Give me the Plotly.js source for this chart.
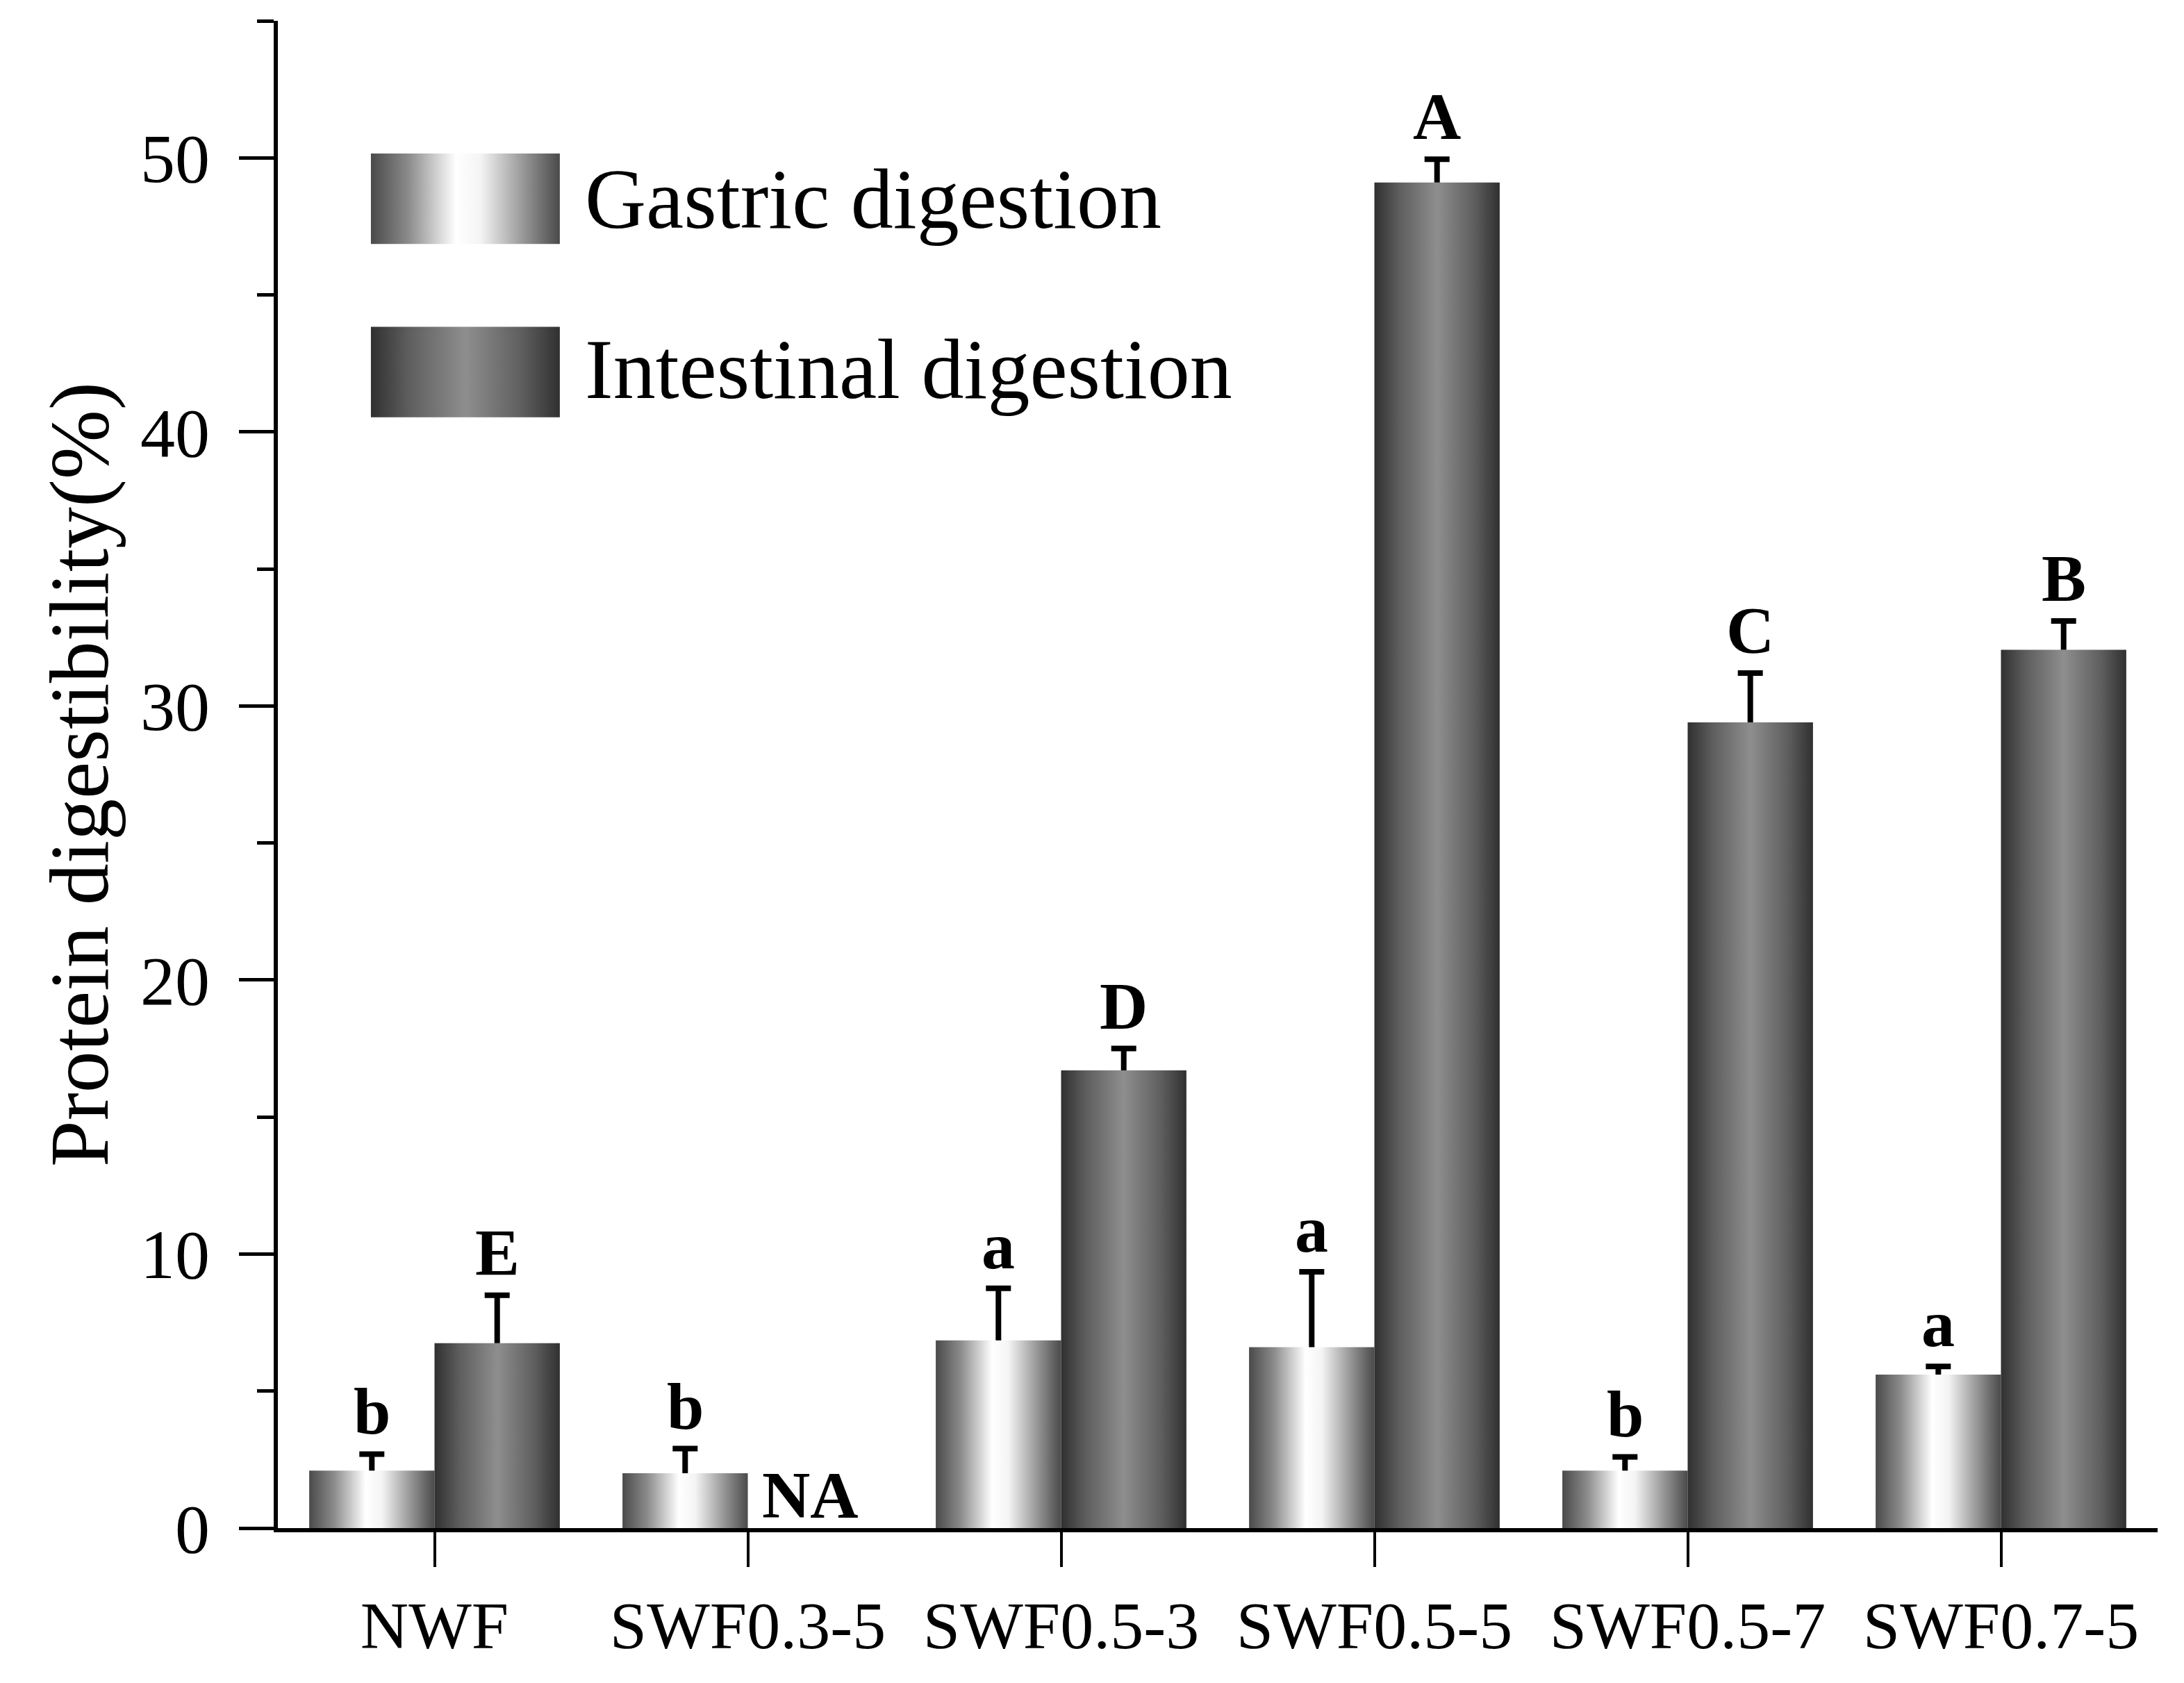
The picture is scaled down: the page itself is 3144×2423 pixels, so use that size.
<!DOCTYPE html>
<html>
<head>
<meta charset="utf-8">
<script src="https://cdn.plot.ly/plotly-3.0.1.min.js"></script>
<style>
  body { margin: 0; background: #fff; }
</style>
</head>
<body>
<svg width="0" height="0" style="position:absolute">
  <defs>
    <linearGradient id="gradGastric" x1="0" x2="1" y1="0" y2="0">
      <stop offset="0" stop-color="#4a4a4a"/>
      <stop offset="0.2" stop-color="#8c8c8c"/>
      <stop offset="0.45" stop-color="#ffffff"/>
      <stop offset="0.58" stop-color="#f4f4f4"/>
      <stop offset="0.8" stop-color="#9a9a9a"/>
      <stop offset="1" stop-color="#4a4a4a"/>
    </linearGradient>
    <linearGradient id="gradIntestinal" x1="0" x2="1" y1="0" y2="0">
      <stop offset="0" stop-color="#303030"/>
      <stop offset="0.2" stop-color="#5e5e5e"/>
      <stop offset="0.5" stop-color="#8e8e8e"/>
      <stop offset="0.8" stop-color="#5e5e5e"/>
      <stop offset="1" stop-color="#303030"/>
    </linearGradient>
  </defs>
</svg>
<div id="myDiv"></div>
<script>
var categories = ['NWF', 'SWF0.3-5', 'SWF0.5-3', 'SWF0.5-5', 'SWF0.5-7', 'SWF0.7-5'];
var gastric = [2.1, 2.0, 6.85, 6.6, 2.1, 5.6];
var gastricErr = [0.6, 0.9, 1.9, 2.75, 0.5, 0.3];
var intestinal = [6.75, null, 16.7, 49.1, 29.4, 32.05];
var intestinalErr = [1.75, null, 0.8, 0.85, 1.8, 1.05];
var gastricLetters = ['b', 'b', 'a', 'a', 'b', 'a'];
var intestinalLetters = ['E', 'NA', 'D', 'A', 'C', 'B'];

var serif = 'Liberation Serif, Times New Roman, serif';

var trace1 = {
    x: categories,
    y: gastric,
    name: 'Gastric digestion',
    type: 'bar',
    marker: {color: '#cccccc', line: {width: 0}},
    error_y: {type: 'data', array: gastricErr, arrayminus: gastricErr.map(function () { return 0; }),
              symmetric: false, color: '#000', thickness: 8, width: 18}
};

var trace2 = {
    x: categories,
    y: intestinal,
    name: 'Intestinal digestion',
    type: 'bar',
    marker: {color: '#666666', line: {width: 0}},
    error_y: {type: 'data', array: intestinalErr, arrayminus: intestinalErr.map(function () { return 0; }),
              symmetric: false, color: '#000', thickness: 8, width: 18}
};

// significance letters above each bar
var annotations = [];
categories.forEach(function (c, i) {
    annotations.push({
        x: i - 0.2, y: gastric[i] + gastricErr[i], xref: 'x', yref: 'y',
        text: gastricLetters[i], showarrow: false, yanchor: 'bottom', yshift: 6,
        font: {family: serif, size: 96, color: '#000', weight: 'bold'}
    });
    var top = intestinal[i] === null ? 0 : intestinal[i] + intestinalErr[i];
    annotations.push({
        x: i + 0.2, y: top, xref: 'x', yref: 'y',
        text: intestinalLetters[i], showarrow: false, yanchor: 'bottom', yshift: intestinal[i] === null ? -8 : 6,
        font: {family: serif, size: 96, color: '#000', weight: 'bold'}
    });
});

// hand-made legend
annotations.push({
    x: 0.1626, y: 0.882, xref: 'paper', yref: 'paper', xanchor: 'left', yanchor: 'middle',
    text: 'Gastric digestion', showarrow: false, font: {family: serif, size: 122, color: '#000'}
});
annotations.push({
    x: 0.1626, y: 0.769, xref: 'paper', yref: 'paper', xanchor: 'left', yanchor: 'middle',
    text: 'Intestinal digestion', showarrow: false, font: {family: serif, size: 122, color: '#000'}
});

var shapes = [
    {type: 'rect', xref: 'paper', yref: 'paper', x0: 0.0495, x1: 0.150, y0: 0.852, y1: 0.912,
     fillcolor: '#cccccc', line: {width: 0}},
    {type: 'rect', xref: 'paper', yref: 'paper', x0: 0.0495, x1: 0.150, y0: 0.737, y1: 0.797,
     fillcolor: '#666666', line: {width: 0}}
];

var layout = {
    width: 3144,
    height: 2423,
    margin: {l: 400, r: 38, t: 30, b: 223, pad: 0},
    paper_bgcolor: '#fff',
    plot_bgcolor: '#fff',
    showlegend: false,
    barmode: 'group',
    bargap: 0.2,
    bargroupgap: 0,
    font: {family: serif, color: '#000'},
    xaxis: {
        type: 'category',
        range: [-0.5, 5.5],
        showline: true, linecolor: '#000', linewidth: 6,
        ticks: 'outside', ticklen: 50, tickwidth: 4, tickcolor: '#000',
        ticklabelstandoff: 2,
        tickfont: {family: serif, size: 96, color: '#000'},
        showgrid: false, zeroline: false
    },
    yaxis: {
        range: [0, 55],
        dtick: 10,
        showline: true, linecolor: '#000', linewidth: 6,
        ticks: 'outside', ticklen: 50, tickwidth: 5, tickcolor: '#000',
        minor: {dtick: 5, ticks: 'outside', ticklen: 24, tickwidth: 5, tickcolor: '#000'},
        ticklabelstandoff: 22,
        tickfont: {family: serif, size: 100, color: '#000'},
        showgrid: false, zeroline: false,
        title: {text: 'Protein digestibility(%)', font: {family: serif, size: 120, color: '#000'}, standoff: 8}
    },
    annotations: annotations,
    shapes: shapes
};

var data = [trace1, trace2];

Plotly.newPlot('myDiv', data, layout, {displayModeBar: false}).then(function (gd) {
    var grads = ['url(#gradGastric)', 'url(#gradIntestinal)'];
    var traces = gd.querySelectorAll('.barlayer .trace');
    traces.forEach(function (t, i) {
        t.querySelectorAll('.point path').forEach(function (p) {
            p.style.fill = grads[i];
            p.style.fillOpacity = 1;
        });
    });
    gd.querySelectorAll('.shapelayer path').forEach(function (p) {
        var idx = +p.getAttribute('data-index');
        p.style.fill = grads[idx];
        p.style.fillOpacity = 1;
    });
    // error bars only go up: drop the cross-bar at the bar top
    gd.querySelectorAll('.errorbar path.yerror').forEach(function (p) {
        var d = p.getAttribute('d') || '';
        p.setAttribute('d', d.replace(/m-?[\d.]+,0h[\d.]+$/, ''));
    });
});
</script>
</body>
</html>
